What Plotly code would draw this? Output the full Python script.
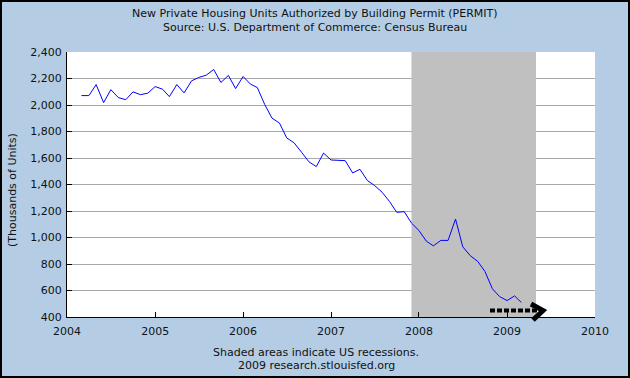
import pandas as pd
import plotly.graph_objects as go

# Monthly permits, Mar 2004 - Mar 2009 (thousands of units, SAAR)
start_month = "2004-03-01"
permits = [
    2071, 2071, 2154, 2018, 2116, 2056, 2040, 2099, 2078, 2089,          # 2004 Mar-Dec
    2139, 2119, 2063, 2154, 2091, 2182, 2208, 2225, 2268, 2170, 2223, 2124,  # 2005
    2215, 2157, 2132, 2003, 1901, 1864, 1752, 1714, 1643, 1572, 1535, 1637,  # 2006
    1585, 1580, 1580, 1487, 1515, 1430, 1392, 1342, 1272, 1190, 1195, 1109,  # 2007
    1053, 972, 937, 978, 978, 1139, 930, 863, 820, 744, 613, 554,            # 2008
    524, 559, 510,                                                          # 2009 Jan-Mar
]
dates = pd.date_range(start_month, periods=len(permits), freq="MS")

recession_start = "2007-12-01"
recession_end = "2009-05-01"

x_range = ["2004-01-01", "2010-01-01"]
y_range = [400, 2400]
y_step = 200

title_lines = [
    "New Private Housing Units Authorized by Building Permit (PERMIT)",
    "Source: U.S. Department of Commerce: Census Bureau",
]
y_title = "(Thousands of Units)"
footer_lines = ["Shaded areas indicate US recessions.", "2009 research.stlouisfed.org"]

BG = "#B4CDE4"
FONT = "DejaVu Sans"
TXT = "#111111"

fig = go.Figure()
# recession shading as a filled trace (sits above gridlines, below the data line)
fig.add_trace(go.Scatter(
    x=[recession_start, recession_end, recession_end, recession_start, recession_start],
    y=[y_range[0], y_range[0], y_range[1], y_range[1], y_range[0]],
    mode="lines", fill="toself", fillcolor="#C0C0C0", line=dict(width=0, color="#C0C0C0"),
    hoverinfo="skip"))
fig.add_trace(go.Scatter(x=dates, y=permits, mode="lines",
                         line=dict(color="#0000FF", width=1), hoverinfo="skip"))

# plot area geometry (pixels) for paper conversions
L, R, T, B = 67, 595, 52, 317
W, H = R - L, B - T
def px(x): return (x - L) / W
def py(y): return (B - y) / H

texts = [
    (title_lines[0], 315, 13),
    (title_lines[1], 315, 27),
    (footer_lines[0], 316, 352),
    (footer_lines[1], 316, 365),
]
annotations = []
for t, x, y in texts:
    annotations.append(dict(text=t, x=px(x), y=py(y), xref="paper", yref="paper",
                            showarrow=False, xanchor="center", yanchor="middle",
                            font=dict(family=FONT, size=11, color=TXT)))
annotations.append(dict(text=y_title, x=px(12), y=py(190), xref="paper", yref="paper",
                        showarrow=False, textangle=-90, xanchor="center", yanchor="middle",
                        font=dict(family=FONT, size=11, color=TXT)))

# hand-drawn dotted arrow
shapes = []
shapes.append(dict(type="line", xref="paper", yref="paper",
                   x0=px(490), y0=py(310.5), x1=px(541), y1=py(310.5),
                   line=dict(color="black", width=4, dash="5px,2px")))
shapes.append(dict(type="path", xref="paper", yref="paper",
                   path=f"M {px(531)},{py(304)} L {px(543)},{py(310.5)} L {px(533)},{py(320)}",
                   line=dict(color="black", width=5)))
# outer frame
shapes.append(dict(type="rect", xref="paper", yref="paper",
                   x0=px(1), y0=py(1), x1=px(629), y1=py(377),
                   line=dict(color="black", width=2)))

fig.update_layout(
    width=630, height=378,
    margin=dict(l=L, r=630 - R, t=T, b=378 - B, autoexpand=False),
    paper_bgcolor=BG, plot_bgcolor="white",
    showlegend=False,
    font=dict(family=FONT, size=11, color=TXT),
    annotations=annotations,
    shapes=shapes,
)
fig.update_xaxes(range=x_range, dtick="M12", tickformat="%Y", ticks="inside",
                 ticklen=5, tickcolor="black", showline=True, linecolor="black",
                 linewidth=1, showgrid=False, zeroline=False, automargin=False,
                 ticklabelstandoff=4,
                 tickfont=dict(family=FONT, size=11, color=TXT))
fig.update_yaxes(range=y_range, dtick=y_step, tick0=y_range[0], tickformat=",d",
                 ticks="inside", ticklen=5, tickcolor="black", showline=True,
                 linecolor="black", linewidth=1, showgrid=True, gridcolor="#A8A8A8",
                 gridwidth=1, zeroline=False, automargin=False,
                 ticklabelstandoff=2,
                 tickfont=dict(family=FONT, size=11, color=TXT))

fig.write_html("out.html", config={"displayModeBar": False},
               post_script="document.body.style.margin='0';document.body.style.overflow='hidden';")
